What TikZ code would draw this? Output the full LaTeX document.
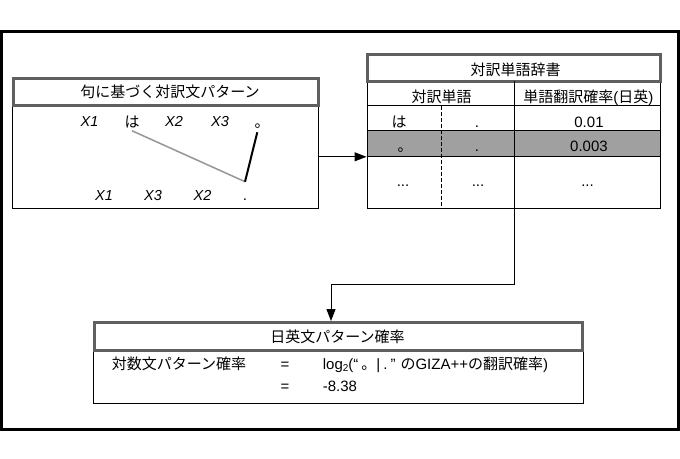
\documentclass[tikz,border=0pt]{standalone}
\usepackage{fontspec}
\setmainfont{Liberation Sans}
\newfontfamily\jpf{Noto Sans CJK JP}
\newcommand{\J}[1]{{\jpf #1}}
\usetikzlibrary{arrows.meta}
\definecolor{hdrgray}{RGB}{96,96,96}
\definecolor{rowgray}{RGB}{160,160,160}
\definecolor{lnkgray}{RGB}{150,150,150}
\begin{document}
\begin{tikzpicture}[x=1pt,y=-1pt,
  frame/.style={draw=black,line width=3pt},
  hdrbox/.style={draw=hdrgray,line width=3pt,fill=white,inner sep=0pt},
  bodybox/.style={draw=black,line width=1pt,inner sep=0pt},
  lt/.style={font=\fontsize{15}{17}\selectfont, inner sep=0pt},
  xv/.style={font=\itshape\fontsize{14.5}{16}\selectfont, inner sep=0pt},
  thin/.style={line width=1pt},
  conn/.style={line width=1pt, -{Triangle[length=12pt,width=9pt]}},
]
\useasboundingbox (0,0) rectangle (680,458);
\fill[white] (0,0) rectangle (680,458);
% outer frame
\node[frame, minimum width=677.5pt, minimum height=398.5pt, inner sep=0pt] (outer) at (339.75,230.25) {};

% ---------- left box ----------
\node[bodybox, minimum width=306pt, minimum height=103pt] (lbody) at (165.25,156.8) {};
\node[hdrbox, minimum width=305pt, minimum height=26.6pt] (lhdr) at (165.5,92) {};
\node[lt, anchor=base] (ltitle) at (170,97.5) {\J{句に基づく対訳文パターン}};
\node[xv, anchor=base] (ax1) at (89.5,126.7) {X1};
\node[lt, anchor=base] (ha) at (132,127) {\J{は}};
\node[xv, anchor=base] (ax2) at (174,126.7) {X2};
\node[xv, anchor=base] (ax3) at (220,126.7) {X3};
\node[lt, anchor=base] (maru) at (262,127) {\J{。}};
\node[xv, anchor=base] (bx1) at (104,200) {X1};
\node[xv, anchor=base] (bx3) at (153,200) {X3};
\node[xv, anchor=base] (bx2) at (202.5,200) {X2};
\node[lt, anchor=base] (pd) at (245,200.5) {.};
\draw[lnkgray, line width=1.5pt] ([yshift=-3pt]ha.south) -- ([yshift=17pt]pd.north);
\draw[black, line width=2pt] ([xshift=-4.7pt,yshift=-4.2pt]maru.south) -- ([yshift=17pt]pd.north);

% ---------- dictionary table ----------
\fill[rowgray] (367,130.7) rectangle (660.5,156.7);
\node[bodybox, minimum width=293.5pt, minimum height=127pt] (tab) at (513.75,144.8) {};
\node[hdrbox, minimum width=293.5pt, minimum height=26.6pt] (thdr) at (513.75,68) {};
\node[lt, anchor=base] (ttitle) at (515.5,75.5) {\J{対訳単語辞書}};
\draw[thin] (tab.west |- 0,105.7) -- (tab.east |- 0,105.7);
\draw[thin] (tab.west |- 0,130.7) -- (tab.east |- 0,130.7);
\draw[thin] (tab.west |- 0,156.7) -- (tab.east |- 0,156.7);
\coordinate (colsepT) at (514.3,81.3);
\coordinate (colsepB) at (514.3,208.3);
\draw[thin] (colsepT) -- (colsepB);
\draw[thin, dash pattern=on 4pt off 2pt] (441,105.7) -- (441,208.3);
\node[lt, anchor=base] (h1) at (441.7,102) {\J{対訳単語}};
\node[lt, anchor=base] (h2) at (588.3,102) {\J{単語翻訳確率}(\J{日英})};
\node[lt, anchor=base] (r1a) at (399,127) {\J{は}};
\node[lt, anchor=base] (r1b) at (477,127) {.};
\node[lt, anchor=base] (r1c) at (589,127) {0.01};
\node[lt, anchor=base] (r2a) at (405,151.5) {\J{。}};
\node[lt, anchor=base] (r2b) at (477,151.5) {.};
\node[lt, anchor=base] (r2c) at (589,151.5) {0.003};
\node[lt, anchor=base] (r3a) at (403,186) {...};
\node[lt, anchor=base] (r3b) at (478,186) {...};
\node[lt, anchor=base] (r3c) at (587.5,186) {...};

% ---------- bottom box ----------
\node[bodybox, minimum width=490pt, minimum height=81pt] (bbody) at (338.4,362.8) {};
\node[hdrbox, minimum width=488.5pt, minimum height=27.5pt] (bhdr) at (338.5,336.3) {};
\node[lt, anchor=base] (btitle) at (337.5,342.5) {\J{日英文パターン確率}};
\node[lt, anchor=base] (lbl) at (179,369) {\J{対数文パターン確率}};
\node[lt, anchor=base] (eq1) at (285,369) {=};
\node[lt, anchor=base west] (logtxt) at (322.7,369) {log\raisebox{-2.5pt}{\fontsize{10}{10}\selectfont 2}(“\kern3pt\J{。}|\kern3pt.\kern3pt”\kern5pt\J{の}GIZA++\J{の翻訳確率})};
\node[lt, anchor=base] (eq2) at (285,391) {=};
\node[lt, anchor=base west] (val) at (322.7,391) {-8.38};

% ---------- connectors ----------
\draw[conn] (lbody.east) -- (lbody.east -| tab.west);
\coordinate (bend) at (331,284);
\draw[thin] (colsepB) |- (bend);
\draw[conn] (bend) -- (bend |- bhdr.north);
\end{tikzpicture}
\end{document}
